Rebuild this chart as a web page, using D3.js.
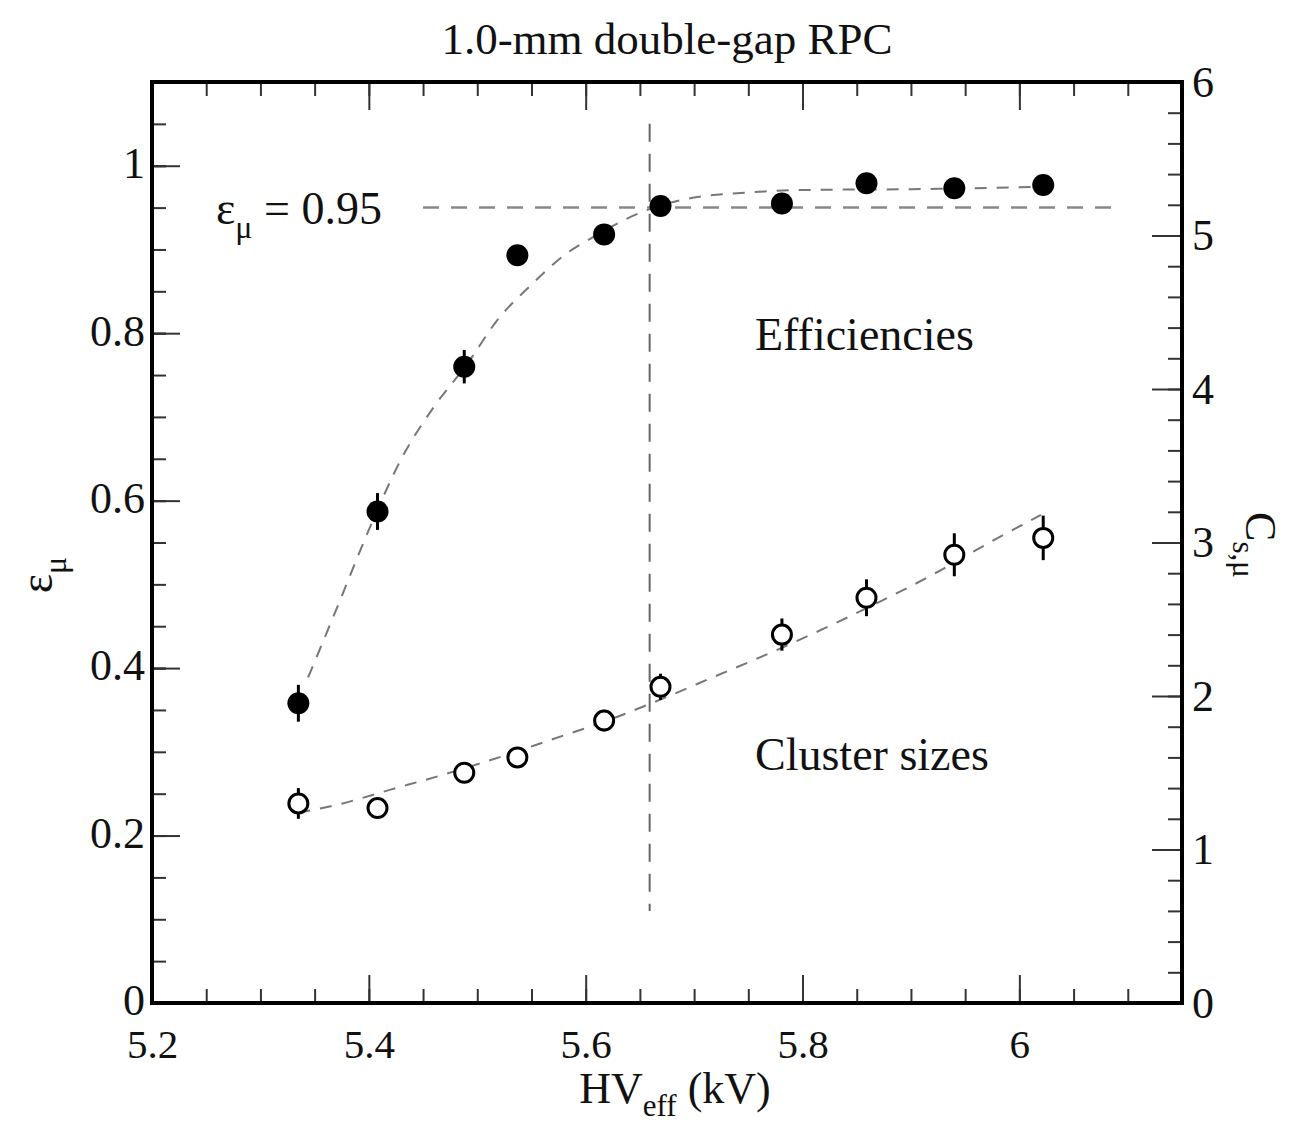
<!DOCTYPE html>
<html>
<head>
<meta charset="utf-8">
<script src="https://cdn.jsdelivr.net/npm/d3@7"></script>
<style>
  body { margin: 0; background: #fff; }
  svg text { font-family: "Liberation Serif", "Times New Roman", serif; fill: #111; }
</style>
</head>
<body>
<div class="graphContainer"></div>
<script>
// chart size and frame position
const w = 1289;
const h = 1133;
const m = {left: 152, top: 82, right: 107, bottom: 130};

// measured points, HV_eff in kV
const hvEff = [5.335, 5.408, 5.488, 5.537, 5.617, 5.669, 5.781, 5.859, 5.940, 6.022];
// efficiencies (left axis) and errors
const effVals = [0.358, 0.587, 0.760, 0.893, 0.918, 0.952, 0.955, 0.979, 0.973, 0.977];
const effErr  = [0.022, 0.022, 0.020, 0.008, 0.008, 0.008, 0.008, 0.008, 0.008, 0.008];
// cluster sizes (right axis) and errors
const csVals = [1.30, 1.27, 1.50, 1.60, 1.84, 2.06, 2.40, 2.64, 2.92, 3.03];
const csErr  = [0.10, 0.06, 0.06, 0.06, 0.07, 0.085, 0.105, 0.12, 0.14, 0.145];

// dashed fit curves
const effFitX = [5.344, 5.37, 5.40, 5.43, 5.46, 5.49, 5.52, 5.55, 5.58, 5.61, 5.64, 5.67, 5.70, 5.75, 5.80, 5.90, 6.03];
const effFitY = [0.389, 0.47, 0.565, 0.650, 0.712, 0.762, 0.818, 0.858, 0.893, 0.917, 0.938, 0.953, 0.962, 0.968, 0.971, 0.972, 0.975];
const csFitX = [5.335, 5.37, 5.42, 5.47, 5.52, 5.57, 5.62, 5.67, 5.72, 5.77, 5.82, 5.87, 5.92, 5.97, 6.02];
const csFitY = [1.24, 1.29, 1.39, 1.49, 1.60, 1.72, 1.84, 1.98, 2.13, 2.28, 2.44, 2.61, 2.79, 2.99, 3.18];

// reference lines: eff = 0.95 and the voltage where it is reached
const effRef = 0.95;
const effRefX = [5.45, 6.09];
const hvRef = 5.659;
const hvRefY = [0.11, 1.05];

// axis ticks
const xMajor = [5.2, 5.4, 5.6, 5.8, 6.0];
const yLeftMajor = [0, 0.2, 0.4, 0.6, 0.8, 1.0];
const yRightMajor = [0, 1, 2, 3, 4, 5, 6];

const iw = w - m.left - m.right;
const ih = h - m.top - m.bottom;

const svg = d3.select(".graphContainer").append("svg")
  .attr("width", w)
  .attr("height", h);

const g = svg.append("g").attr("transform", "translate(" + m.left + "," + m.top + ")");

const xScale = d3.scaleLinear().domain([5.2, 6.15]).range([0, iw]);
const yLeft = d3.scaleLinear().domain([0, 1.1]).range([ih, 0]);
const yRight = d3.scaleLinear().domain([0, 6]).range([ih, 0]);

const xMinor = d3.range(0, 20).map(i => 5.2 + i * 0.05).filter(v => v < 6.15);
const yLeftMinor = d3.range(0, 23).map(i => i * 0.05);
const yRightMinor = d3.range(0, 31).map(i => i * 0.2);

function styleTicks(sel) {
  sel.select(".domain").remove();
  sel.selectAll(".tick line").attr("stroke", "#333").attr("stroke-width", 2);
  sel.selectAll(".tick text").attr("font-size", 44).attr("fill", "#111");
}

// bottom and top ticks
g.append("g").attr("transform", "translate(0," + ih + ")")
  .call(d3.axisBottom(xScale).tickValues(xMinor).tickSize(-14).tickFormat(""))
  .call(styleTicks);
g.append("g").attr("transform", "translate(0," + ih + ")")
  .call(d3.axisBottom(xScale).tickValues(xMajor).tickSize(-28).tickPadding(0).tickFormat(d => d3.format("")(+d.toFixed(1))))
  .call(styleTicks)
  .selectAll(".tick text").attr("dy", null).attr("y", 55).attr("font-size", 41);
g.append("g")
  .call(d3.axisTop(xScale).tickValues(xMinor).tickSize(-14).tickFormat(""))
  .call(styleTicks);
g.append("g")
  .call(d3.axisTop(xScale).tickValues(xMajor).tickSize(-28).tickFormat(""))
  .call(styleTicks);

// left axis
g.append("g")
  .call(d3.axisLeft(yLeft).tickValues(yLeftMajor.concat(yLeftMinor)).tickSize(-14).tickFormat(""))
  .call(styleTicks);
g.append("g")
  .call(d3.axisLeft(yLeft).tickValues(yLeftMajor).tickSize(-28).tickPadding(7).tickFormat(d => d3.format("")(+d.toFixed(1))))
  .call(styleTicks)
  .selectAll(".tick text").attr("dy", "0.27em");

// right axis
g.append("g").attr("transform", "translate(" + iw + ",0)")
  .call(d3.axisRight(yRight).tickValues(yRightMinor).tickSize(-14).tickFormat(""))
  .call(styleTicks);
g.append("g").attr("transform", "translate(" + iw + ",0)")
  .call(d3.axisRight(yRight).tickValues(yRightMajor).tickSize(-30).tickPadding(10).tickFormat(d3.format("d")))
  .call(styleTicks);

// frame
g.append("rect")
  .attr("width", iw).attr("height", ih)
  .attr("fill", "none").attr("stroke", "#000").attr("stroke-width", 4);

// reference dashed lines
g.append("line")
  .attr("x1", xScale(effRefX[0])).attr("x2", xScale(effRefX[1]))
  .attr("y1", yLeft(effRef)).attr("y2", yLeft(effRef))
  .attr("stroke", "#888").attr("stroke-width", 2.5).attr("stroke-dasharray", "16,12");
g.append("line")
  .attr("x1", xScale(hvRef)).attr("x2", xScale(hvRef))
  .attr("y1", yLeft(hvRefY[1])).attr("y2", yLeft(hvRefY[0]))
  .attr("stroke", "#666").attr("stroke-width", 2).attr("stroke-dasharray", "18,12");

// fit curves
const effFit = effFitX.map((x, i) => [x, effFitY[i]]);
const csFit = csFitX.map((x, i) => [x, csFitY[i]]);

g.append("path").datum(effFit)
  .attr("d", d3.line().x(d => xScale(d[0])).y(d => yLeft(d[1])).curve(d3.curveMonotoneX))
  .attr("fill", "none").attr("stroke", "#777").attr("stroke-width", 2).attr("stroke-dasharray", "12,10");
g.append("path").datum(csFit)
  .attr("d", d3.line().x(d => xScale(d[0])).y(d => yRight(d[1])).curve(d3.curveMonotoneX))
  .attr("fill", "none").attr("stroke", "#777").attr("stroke-width", 2).attr("stroke-dasharray", "12,10");

// efficiency points
const effData = hvEff.map((x, i) => ({x: x, y: effVals[i], e: effErr[i]}));
g.selectAll(".effErr").data(effData).enter().append("line")
  .attr("x1", d => xScale(d.x)).attr("x2", d => xScale(d.x))
  .attr("y1", d => yLeft(d.y - d.e)).attr("y2", d => yLeft(d.y + d.e))
  .attr("stroke", "#000").attr("stroke-width", 3);
g.selectAll(".effPt").data(effData).enter().append("circle")
  .attr("cx", d => xScale(d.x)).attr("cy", d => yLeft(d.y))
  .attr("r", 11).attr("fill", "#000");

// cluster size points
const csData = hvEff.map((x, i) => ({x: x, y: csVals[i], e: csErr[i]}));
g.selectAll(".csErr").data(csData).enter().append("line")
  .attr("x1", d => xScale(d.x)).attr("x2", d => xScale(d.x))
  .attr("y1", d => yRight(d.y - d.e)).attr("y2", d => yRight(d.y + d.e))
  .attr("stroke", "#000").attr("stroke-width", 3);
g.selectAll(".csPt").data(csData).enter().append("circle")
  .attr("cx", d => xScale(d.x)).attr("cy", d => yRight(d.y))
  .attr("r", 9.5).attr("fill", "#fff").attr("stroke", "#000").attr("stroke-width", 3);

// texts
svg.append("text").attr("x", m.left + iw / 2).attr("y", 54)
  .attr("text-anchor", "middle").attr("font-size", 45)
  .text("1.0-mm double-gap RPC");

const xl = svg.append("text").attr("x", m.left + iw / 2 + 8).attr("y", 1103)
  .attr("text-anchor", "middle").attr("font-size", 44);
xl.append("tspan").text("HV");
xl.append("tspan").attr("font-size", 31).attr("dy", 13).text("eff");
xl.append("tspan").attr("dy", -13).text(" (kV)");

const yl = svg.append("text").attr("transform", "translate(52,575) rotate(-90)")
  .attr("text-anchor", "middle").attr("font-size", 46);
yl.append("tspan").text("ε");
yl.append("tspan").attr("font-size", 32).attr("dy", 14).text("μ");

const yr = svg.append("text").attr("transform", "translate(1246,545) rotate(90)")
  .attr("text-anchor", "middle").attr("font-size", 44);
yr.append("tspan").text("C");
yr.append("tspan").attr("font-size", 31).attr("dy", 13).text("s,μ");

const lbl = svg.append("text").attr("x", 216).attr("y", 224).attr("font-size", 46);
lbl.append("tspan").text("ε");
lbl.append("tspan").attr("font-size", 32).attr("dy", 14).text("μ");
lbl.append("tspan").attr("dy", -14).text(" = 0.95");

svg.append("text").attr("x", 755).attr("y", 350)
  .attr("font-size", 46).text("Efficiencies");
svg.append("text").attr("x", 755).attr("y", 770)
  .attr("font-size", 46).text("Cluster sizes");
</script>
</body>
</html>
